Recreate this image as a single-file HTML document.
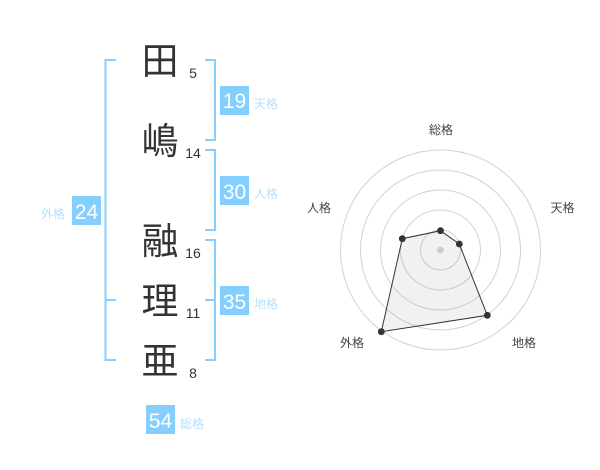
<!DOCTYPE html>
<html><head><meta charset="utf-8"><style>
html,body{margin:0;padding:0;background:#fff}
svg{display:block}
text{font-family:"Liberation Sans","Noto Sans CJK JP",sans-serif}
</style></head><body>
<svg width="600" height="470" viewBox="0 0 600 470" xmlns="http://www.w3.org/2000/svg">
<g fill="none" stroke="#85cfff" stroke-width="2">
<path d="M116 60H105.500V360H116M105.500 300H116"/>
<path d="M205 60H215V140H205"/>
<path d="M205 150H215V230H205"/>
<path d="M205 240H215V360H205M205 300H215"/>
</g>
<g fill="#85cfff">
<rect x="220" y="86" width="29" height="29"/>
<rect x="220" y="176" width="29" height="29"/>
<rect x="72" y="196" width="29" height="29"/>
<rect x="220" y="286" width="29" height="29"/>
<rect x="146" y="405" width="29" height="29"/>
</g>
<g fill="#fff" font-size="21" text-anchor="middle">
<text x="234.500" y="108">19</text>
<text x="234.500" y="199">30</text>
<text x="86.500" y="219">24</text>
<text x="234.500" y="309">35</text>
<text x="160.500" y="428">54</text>
</g>
<g fill="#333" font-size="37" text-anchor="middle">
<text x="160" y="74">田</text>
<text x="160" y="154">嶋</text>
<text x="160" y="254">融</text>
<text x="160" y="314">理</text>
<text x="160" y="374">亜</text>
</g>
<g fill="#333" font-size="14" text-anchor="middle">
<text x="193" y="78">5</text>
<text x="193" y="158">14</text>
<text x="193" y="258">16</text>
<text x="193" y="318">11</text>
<text x="193" y="378">8</text>
</g>
<g fill="#b5e1fc" font-size="12" text-anchor="middle">
<text x="266" y="108">天格</text>
<text x="266" y="198">人格</text>
<text x="53" y="218">外格</text>
<text x="266" y="308">地格</text>
<text x="192" y="428">総格</text>
</g>
<g fill="none" stroke="#d2d2d2" stroke-width="1">
<circle cx="440.500" cy="250" r="20"/>
<circle cx="440.500" cy="250" r="40"/>
<circle cx="440.500" cy="250" r="60"/>
<circle cx="440.500" cy="250" r="80"/>
<circle cx="440.500" cy="250" r="100"/>
</g>
<polygon points="440.500,230.700 459.300,244 487.300,315.300 381.300,331.700 402.300,238.700" fill="rgba(120,120,120,.1)" stroke="#333" stroke-width="1"/>
<circle cx="440.500" cy="250" r="3.300" fill="#ccc"/>
<g fill="#333">
<circle cx="440.500" cy="230.700" r="3.400"/>
<circle cx="459.300" cy="244" r="3.400"/>
<circle cx="487.300" cy="315.300" r="3.400"/>
<circle cx="381.300" cy="331.700" r="3.400"/>
<circle cx="402.300" cy="238.700" r="3.400"/>
</g>
<g fill="#444" font-size="12" text-anchor="middle">
<text x="441" y="134">総格</text>
<text x="562.500" y="212">天格</text>
<text x="524" y="347">地格</text>
<text x="352" y="347">外格</text>
<text x="319" y="212">人格</text>
</g>
</svg>
</body></html>
